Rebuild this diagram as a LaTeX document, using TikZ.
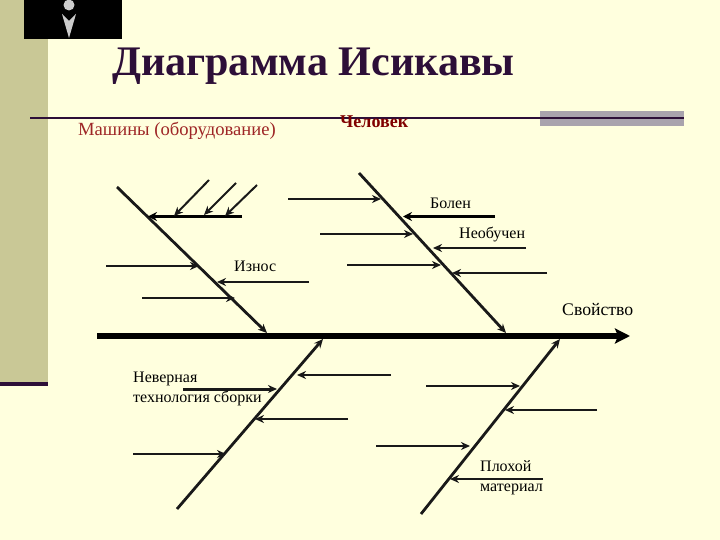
\documentclass[tikz,border=0pt]{standalone}
\usepackage{xcolor}
\usepackage{fontspec}
\setmainfont{Liberation Serif}
\usetikzlibrary{arrows.meta, positioning}
\definecolor{paper}{HTML}{FFFFDE}
\definecolor{band}{HTML}{C9C896}
\definecolor{plum}{HTML}{2D0F38}
\definecolor{greybar}{HTML}{A9A3AD}
\tikzset{
  lbl/.style={inner sep=0pt,anchor=west,align=left,text=black,
    font=\fontsize{16}{20}\selectfont},
  spine/.style={-{Stealth[length=15pt,width=15pt,inset=3pt]},line width=6pt,draw=black},
  bone/.style={-{Stealth[length=9pt,width=8pt]},line width=2.8pt,draw=black!90},
  twig/.style={-{Stealth[length=9pt,width=8pt]},line width=2pt,draw=black!90},
  twigb/.style={-{Stealth[length=9pt,width=9pt]},line width=3.4pt,draw=black}
}
\begin{document}
\begin{tikzpicture}[x=1pt,y=-1pt]
\useasboundingbox (0,0) rectangle (720,540);
% slide background
\fill[paper] (0,0) rectangle (720,540);
\fill[band] (0,0) rectangle (48,382);
\fill[plum] (0,382) rectangle (48,386);
\fill[black] (24,0) rectangle (122,39);
\fill[black!20] (69,5) circle (5.5);
\fill[black!20] (62,14) -- (69,21) -- (76,14) -- (69,38) -- cycle;
\fill[greybar] (540,111) rectangle (684,126);
\coordinate (rulea) at (30,118);
\coordinate (ruleb) at (684,118);
\draw[line width=2.2pt,draw=plum] (rulea)--(ruleb);
% headings
\node[inner sep=0pt,anchor=base west,text=plum,font=\fontsize{42.1}{46}\selectfont\bfseries] (title) at (112,76) {Диаграмма Исикавы};
\node[lbl,text=red!55!black!85,font=\fontsize{18.6}{22}\selectfont] (mach) at (78,131) {Машины (оборудование)};
\node[lbl,text=red!50!black,font=\fontsize{18}{22}\selectfont\bfseries] (man) at (340,122) {Человек};
% main line
\coordinate (sa) at (97,336);
\coordinate (sb) at (630,336);
\draw[spine] (sa)--(sb);
\node[lbl,font=\fontsize{17.7}{20}\selectfont] (prop) at (562,310) {Свойство};
% big bones
\coordinate (b1a) at (117,187); \coordinate (b1b) at (267,333);
\coordinate (b2a) at (359,173); \coordinate (b2b) at (506,333);
\coordinate (b3a) at (177,509); \coordinate (b3b) at (323,339);
\coordinate (b4a) at (421,514); \coordinate (b4b) at (560,339);
\draw[bone] (b1a)--(b1b);
\draw[bone] (b2a)--(b2b);
\draw[bone] (b3a)--(b3b);
\draw[bone] (b4a)--(b4b);
% first bone
\coordinate (m0a) at (242,216.5); \coordinate (m0b) at (148,216.5);
\draw[twigb] (m0a)--(m0b);
\coordinate (d1a) at (209,180); \coordinate (d1b) at (174,216);
\coordinate (d2a) at (236,183); \coordinate (d2b) at (204,215);
\coordinate (d3a) at (257,185); \coordinate (d3b) at (225,216);
\draw[twig] (d1a)--(d1b);
\draw[twig] (d2a)--(d2b);
\draw[twig] (d3a)--(d3b);
\coordinate (m1a) at (106,266); \coordinate (m1b) at (199,266);
\coordinate (m2a) at (309,282); \coordinate (m2b) at (217,282);
\coordinate (m3a) at (142,298); \coordinate (m3b) at (235,298);
\draw[twig] (m1a)--(m1b);
\draw[twig] (m2a)--(m2b);
\draw[twig] (m3a)--(m3b);
\node[lbl] (wear) at (234,266) {Износ};
% second bone
\coordinate (h1a) at (288,199); \coordinate (h1b) at (381,199);
\coordinate (h2a) at (320,234); \coordinate (h2b) at (413,234);
\coordinate (h3a) at (347,265); \coordinate (h3b) at (441,265);
\coordinate (h4a) at (495,216.5); \coordinate (h4b) at (403,216.5);
\coordinate (h5a) at (526,248); \coordinate (h5b) at (433,248);
\coordinate (h6a) at (547,273); \coordinate (h6b) at (452,273);
\draw[twig] (h1a)--(h1b);
\draw[twig] (h2a)--(h2b);
\draw[twig] (h3a)--(h3b);
\draw[twigb] (h4a)--(h4b);
\draw[twig] (h5a)--(h5b);
\draw[twig] (h6a)--(h6b);
\node[lbl] (ill) at (430,203) {Болен};
\node[lbl] (untr) at (459,234) {Необучен};
% third bone
\coordinate (t1a) at (183,389); \coordinate (t1b) at (277,389);
\coordinate (t2a) at (391,375); \coordinate (t2b) at (297,375);
\coordinate (t3a) at (348,419); \coordinate (t3b) at (255,419);
\coordinate (t4a) at (133,454); \coordinate (t4b) at (226,454);
\draw[twig,line width=3pt] (t1a)--(t1b);
\draw[twig] (t2a)--(t2b);
\draw[twig] (t3a)--(t3b);
\draw[twig] (t4a)--(t4b);
\node[lbl] (tech) at (133,388.5) {Неверная\\технология сборки};
% fourth bone
\coordinate (f1a) at (426,386); \coordinate (f1b) at (520,386);
\coordinate (f2a) at (597,410); \coordinate (f2b) at (505,410);
\coordinate (f3a) at (376,446); \coordinate (f3b) at (470,446);
\coordinate (f4a) at (543,479); \coordinate (f4b) at (450,479);
\draw[twig] (f1a)--(f1b);
\draw[twig] (f2a)--(f2b);
\draw[twig] (f3a)--(f3b);
\draw[twig] (f4a)--(f4b);
\node[lbl] (matl) at (480,477.5) {Плохой\\материал};
\end{tikzpicture}
\end{document}
